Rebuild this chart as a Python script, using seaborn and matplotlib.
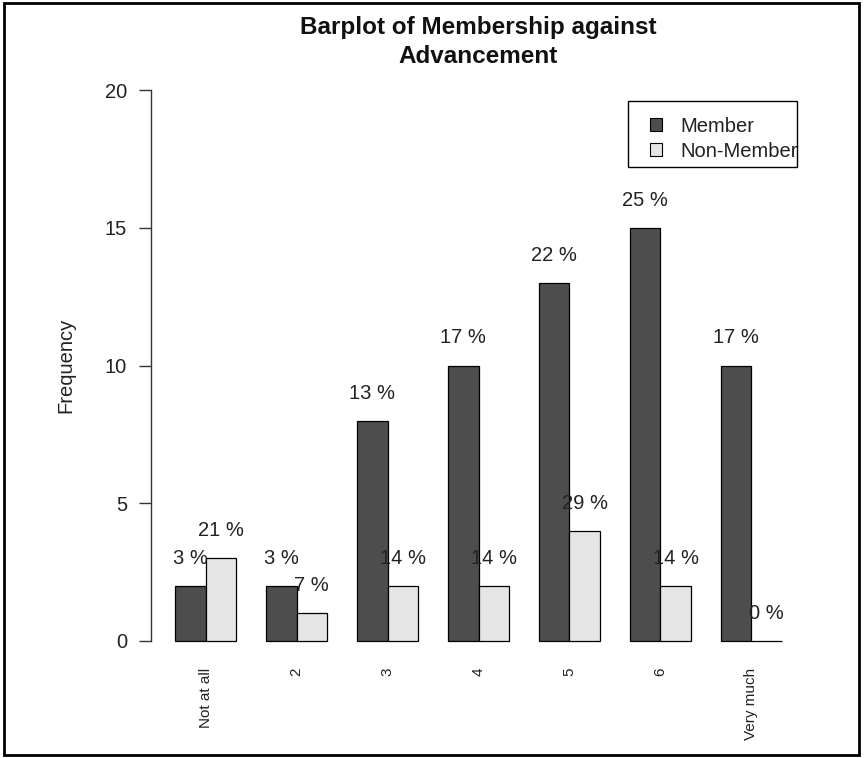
import numpy as np
import pandas as pd
import matplotlib
matplotlib.use("Agg")
import matplotlib.pyplot as plt
from matplotlib.patches import Patch, Rectangle
import seaborn as sns

# ---- data ----
categories = ["Not at all", "2", "3", "4", "5", "6", "Very much"]
groups = ["Member", "Non-Member"]
member_counts = [2, 2, 8, 10, 13, 15, 10]
nonmember_counts = [3, 1, 2, 2, 4, 2, 0]
colors = ["#4d4d4d", "#e5e5e5"]
y_ticks = [0, 5, 10, 15, 20]

df = pd.DataFrame({
    "Advancement": categories * 2,
    "Group": [groups[0]] * len(categories) + [groups[1]] * len(categories),
    "Frequency": member_counts + nonmember_counts,
})

pct_labels = {
    groups[0]: ["%d %%" % round(100 * v / sum(member_counts)) for v in member_counts],
    groups[1]: ["%d %%" % round(100 * v / sum(nonmember_counts)) for v in nonmember_counts],
}

sns.set_theme(style="white")
plt.rcParams["font.family"] = ["Liberation Sans", "DejaVu Sans"]

W, H = 864, 758
fig = plt.figure(figsize=(W / 100, H / 100), dpi=100)
ax = fig.add_axes([151 / W, 1 - 663 / H, (806 - 151) / W, (663 - 68) / H])

sns.barplot(data=df, x="Advancement", y="Frequency", hue="Group",
            order=categories, hue_order=groups, palette=colors,
            width=2 / 3, edgecolor="black", linewidth=0.9,
            saturation=1, legend=False, ax=ax, errorbar=None)

ax.set_xlim(-0.6, 6.6)
ax.set_ylim(-0.8, 20.8)

# percentage labels above bars
for cont, g in zip(ax.containers, groups):
    for bar, lab in zip(cont.patches, pct_labels[g]):
        xc = bar.get_x() + bar.get_width() / 2
        ax.text(xc, bar.get_height() + 1.0, lab, ha="center", va="center",
                fontsize=14.5, color="#222222")

# axes styling (R base look)
for s in ["top", "right", "bottom"]:
    ax.spines[s].set_visible(False)
ax.spines["left"].set_bounds(0, 20)
ax.spines["left"].set_color("#333333")
ax.spines["left"].set_linewidth(1)
ax.set_yticks(y_ticks)
ax.set_yticklabels([str(t) for t in y_ticks], fontsize=14.5, color="#222222")
ax.tick_params(axis="y", left=True, length=8.6, width=1, pad=8.6, color="#333333")
ax.tick_params(axis="x", bottom=False, length=0, pad=3.6)
ax.set_xticks(range(len(categories)))
ax.set_xticklabels(categories, rotation=90, fontsize=11, color="#222222")

ax.set_xlabel("")
ax.set_ylabel("Frequency", fontsize=14.5, color="#222222")
ax.yaxis.set_label_coords(-0.116, 0.5)

ax.text(0.5, (663 - 42) / (663 - 68), "Barplot of Membership against\nAdvancement",
        transform=ax.transAxes, ha="center", va="center", fontsize=17.5,
        fontweight="bold", linespacing=1.38, color="#111111")

handles = [Patch(facecolor=c, edgecolor="black", linewidth=0.8) for c in colors]
leg = ax.legend(handles, groups, loc="upper left",
                bbox_to_anchor=(650 / W, 1 - 116.5 / H), bbox_transform=fig.transFigure,
                borderaxespad=0, fontsize=14.5, frameon=False,
                handlelength=0.6, handleheight=0.6, handletextpad=0.9,
                borderpad=0, labelspacing=0.3)
for t in leg.get_texts():
    t.set_color("#222222")
# R-style legend box (text may overflow it, as in R)
fig.patches.append(Rectangle((628 / W, 1 - 167 / H), (797 - 628) / W, (167 - 101) / H,
                             transform=fig.transFigure, fill=False,
                             edgecolor="black", linewidth=1))

# outer frame around whole image
fig.patches.append(Rectangle((4 / W, 3 / H), (859 - 4) / W, (755 - 3) / H,
                             transform=fig.transFigure, fill=False,
                             edgecolor="black", linewidth=2))

fig.savefig("out.png", dpi=100)
